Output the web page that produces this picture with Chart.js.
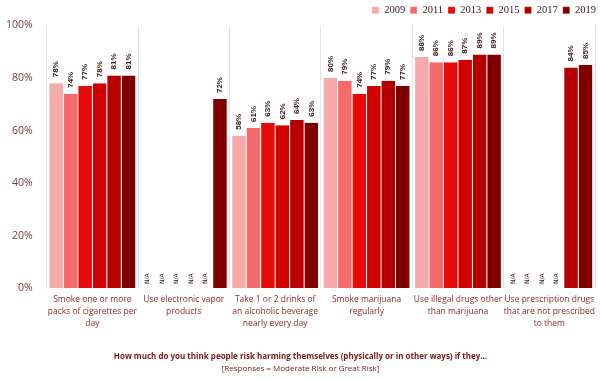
<!DOCTYPE html>
<html>
<head>
<meta charset="utf-8">
<script src="https://cdn.jsdelivr.net/npm/chart.js@4.4.1/dist/chart.umd.min.js"></script>
<style>
  html, body { margin: 0; padding: 0; background: #fff; }
  #wrap { width: 601px; height: 381px; }
</style>
</head>
<body>
<div id="wrap"><canvas id="chartRiesgo"></canvas></div>
<script>
// categorias del eje x (varias lineas)
const categorias = [
    ["Smoke one or more", "packs of cigarettes per", "day"],
    ["Use electronic vapor", "products"],
    ["Take 1 or 2 drinks of", "an alcoholic beverage", "nearly every day"],
    ["Smoke marijuana", "regularly"],
    ["Use illegal drugs other", "than marijuana"],
    ["Use prescription drugs", "that are not prescribed", "to them"]
];

const anios = ["2009", "2011", "2013", "2015", "2017", "2019"];

// porcentajes por año (null = N/A)
const v2009 = [78, null, 58, 80, 88, null];
const v2011 = [74, null, 61, 79, 86, null];
const v2013 = [77, null, 63, 74, 86, null];
const v2015 = [78, null, 62, 77, 87, null];
const v2017 = [81, null, 64, 79, 89, 84];
const v2019 = [81, 72, 63, 77, 89, 85];

const yTicks = [0, 20, 40, 60, 80, 100];

const colores = ["#f7aaaa", "#f56b6b", "#e80a0a", "#d20000", "#b60000", "#800000"];
const series = [v2009, v2011, v2013, v2015, v2017, v2019];

// etiquetas de valor giradas sobre cada barra
const etiquetasBarras = {
    id: 'etiquetasBarras',
    afterDatasetsDraw(chart) {
        const ctx = chart.ctx;
        const y0 = chart.scales.y.getPixelForValue(0);
        ctx.save();
        ctx.fillStyle = "#3a1a1a";
        chart.data.datasets.forEach((ds, di) => {
            const meta = chart.getDatasetMeta(di);
            meta.data.forEach((bar, i) => {
                const val = ds.data[i];
                ctx.save();
                if (val === null) {
                    ctx.translate(bar.x, y0 - 4);
                    ctx.rotate(-Math.PI / 2);
                    ctx.font = "6px 'DejaVu Sans'";
                    ctx.textAlign = "left";
                    ctx.textBaseline = "middle";
                    ctx.fillText("N/A", 0, 0);
                } else {
                    ctx.translate(bar.x, bar.y - 6);
                    ctx.rotate(-Math.PI / 2);
                    ctx.font = "bold 8px 'Liberation Sans'";
                    ctx.textAlign = "left";
                    ctx.textBaseline = "middle";
                    ctx.fillText(val + "%", 0, 0);
                }
                ctx.restore();
            });
        });
        ctx.restore();
    }
};

new Chart(document.getElementById("chartRiesgo"), {
    type: 'bar',
    data: {
        labels: categorias,
        datasets: anios.map((a, i) => ({
            label: a,
            data: series[i],
            backgroundColor: colores[i],
            borderColor: "#ffffff",
            borderWidth: { left: 0.5, right: 0.5, top: 0, bottom: 0 },
            barPercentage: 1.0,
            categoryPercentage: 0.95
        }))
    },
    options: {
        responsive: true,
        maintainAspectRatio: false,
        animation: false,
        layout: { padding: { left: 0, right: 0, top: 0, bottom: 3 } },
        plugins: {
            legend: {
                position: 'top',
                align: 'end',
                labels: {
                    boxWidth: 7,
                    boxHeight: 7,
                    padding: 5,
                    color: "#3a1a1a",
                    font: { family: "'Liberation Serif'", size: 10.5 }
                }
            },
            tooltip: { enabled: false },
            subtitle: {
                display: true,
                position: 'bottom',
                text: "How much do you think people risk harming themselves (physically or in other ways) if they...",
                color: "#7a1414",
                font: { family: "'Open Sans'", size: 8, weight: 'bold' },
                padding: { top: 16, bottom: 3 }
            },
            title: {
                display: true,
                position: 'bottom',
                text: "[Responses = Moderate Risk or Great Risk]",
                color: "#7a1414",
                font: { family: "'Open Sans'", size: 8, weight: 'normal' },
                padding: { top: 0, bottom: 4 }
            }
        },
        scales: {
            x: {
                grid: { display: true, offset: true, color: "#e2e2e2", drawTicks: false },
                border: { display: false },
                ticks: {
                    color: "#8a2a2a",
                    font: { family: "'Open Sans'", size: 8.5, lineHeight: 1.4 },
                    maxRotation: 0,
                    autoSkip: false,
                    padding: 6
                }
            },
            y: {
                min: 0,
                max: 100,
                afterBuildTicks(axis) { axis.ticks = yTicks.map(v => ({ value: v })); },
                grid: { display: false },
                border: { display: true, color: "#e6e6e6" },
                ticks: {
                    color: "#7a3a3a",
                    font: { family: "'Open Sans'", size: 10.5 },
                    padding: 6,
                    callback: v => v + "%"
                }
            }
        }
    },
    plugins: [etiquetasBarras]
});
</script>
</body>
</html>
